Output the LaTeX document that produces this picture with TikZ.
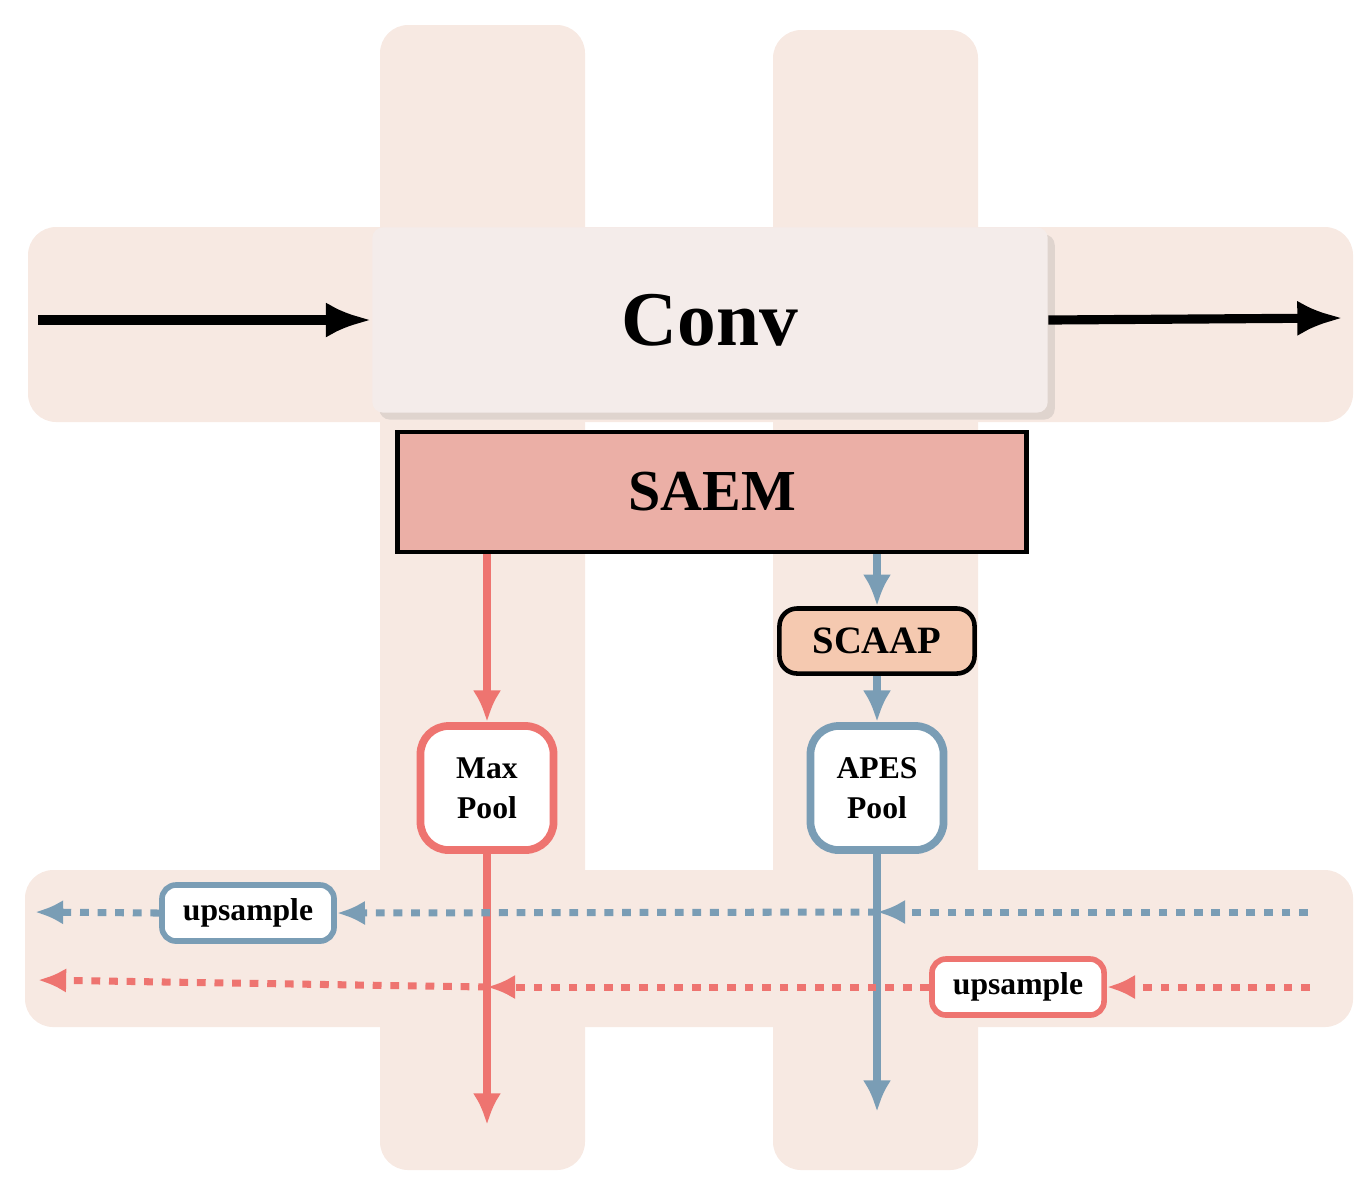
\documentclass[tikz,border=0pt]{standalone}
\usepackage{fontspec}
\setmainfont{Liberation Serif}
\usetikzlibrary{positioning,shadows,arrows.meta}
\definecolor{band}{HTML}{F7E9E2}
\definecolor{convfill}{HTML}{F4ECEA}
\definecolor{saemfill}{HTML}{EBAFA6}
\definecolor{scaapfill}{HTML}{F5C9B0}
\definecolor{redline}{HTML}{EE7470}
\definecolor{blueline}{HTML}{7A9DB5}
\tikzset{
  band/.style={fill=band,draw=none,rounded corners=8pt},
  pool/.style={draw=#1,line width=2.2pt,fill=white,rounded corners=8pt,minimum width=1.33cm,minimum height=1.24cm,align=center,font=\bfseries\fontsize{9}{11.5}\selectfont},
  up/.style={draw=#1,line width=1.6pt,fill=white,rounded corners=4pt,minimum width=1.72cm,minimum height=0.56cm,font=\bfseries\fontsize{9}{11}\selectfont},
  flow/.style={line width=2.2pt,draw=#1,-{Latex[length=9pt,width=8pt]}},
  skip/.style={line width=2pt,draw=#1,dash pattern=on 2.5pt off 2.5pt,-{Latex[length=8pt,width=7pt]}},
}
\begin{document}
\begin{tikzpicture}[x=0.01cm,y=-0.01cm]
	\useasboundingbox (0,0) rectangle (1371,1190);
	% background bands
	\fill [band] (380,25) rectangle (585,1170);
	\fill [band] (773,30) rectangle (978,1170);
	\fill [band] (28,227) rectangle (1353,422);
	\fill [band] (25,870) rectangle (1353,1027);
	% blocks
	\node [fill=convfill,rounded corners=3pt,drop shadow={opacity=0.2,shadow xshift=2pt,shadow yshift=-2pt},minimum width=6.75cm,minimum height=1.85cm,font=\bfseries\fontsize{22}{26}\selectfont] at (710,320) (conv) {Conv};
	\node [fill=saemfill,draw=black,line width=1.3pt,minimum width=6.29cm,minimum height=1.2cm,font=\bfseries\fontsize{16.5}{20}\selectfont] at (712,492) (saem) {SAEM};
	\node [fill=scaapfill,draw=black,line width=1.3pt,rounded corners=5pt,minimum width=1.95cm,minimum height=0.65cm,font=\bfseries\fontsize{11}{13}\selectfont] at (877,641) (scaap) {SCAAP};
	\node [pool=redline] at (487,788) (maxpool) {Max\\Pool};
	\node [pool=blueline] at (877,788) (apespool) {APES\\Pool};
	\node [up=blueline] at (248,913) (upblue) {upsample};
	\node [up=redline] at (1018,987) (upred) {upsample};
	% end points
	\coordinate (inL) at (38,320);
	\coordinate (outR) at (1343,318);
	\coordinate (redEnd) at (487,1125);
	\coordinate (blueEnd) at (877,1112);
	\coordinate (blueIn) at (1308,912);
	\coordinate (blueMid) at (877,912);
	\coordinate (blueOut) at (35,912);
	\coordinate (redIn) at (1310,987);
	\coordinate (redMid) at (487,987);
	\coordinate (redOut) at (38,980);
	% main path
	\draw [line width=2.6pt,-{Latex[length=13pt,width=10pt]}] (inL) -- (conv.west);
	\draw [line width=2.6pt,-{Latex[length=13pt,width=10pt]}] (conv.east) -- (outR);
	\draw [flow=redline] (saem.south -| maxpool) -- (maxpool.north);
	\draw [flow=redline] (maxpool.south) -- (redEnd);
	\draw [flow=blueline] (saem.south -| scaap) -- (scaap.north);
	\draw [flow=blueline] (scaap.south) -- (apespool.north);
	\draw [flow=blueline] (apespool.south) -- (blueEnd);
	% skip paths
	\draw [skip=blueline] (blueIn) -- (blueMid);
	\draw [skip=blueline] (blueMid) -- (upblue.east);
	\draw [skip=blueline] (upblue.west) -- (blueOut);
	\draw [skip=redline] (redIn) -- (upred.east);
	\draw [skip=redline] (upred.west) -- (redMid);
	\draw [skip=redline] (redMid) -- (redOut);
\end{tikzpicture}
\end{document}
